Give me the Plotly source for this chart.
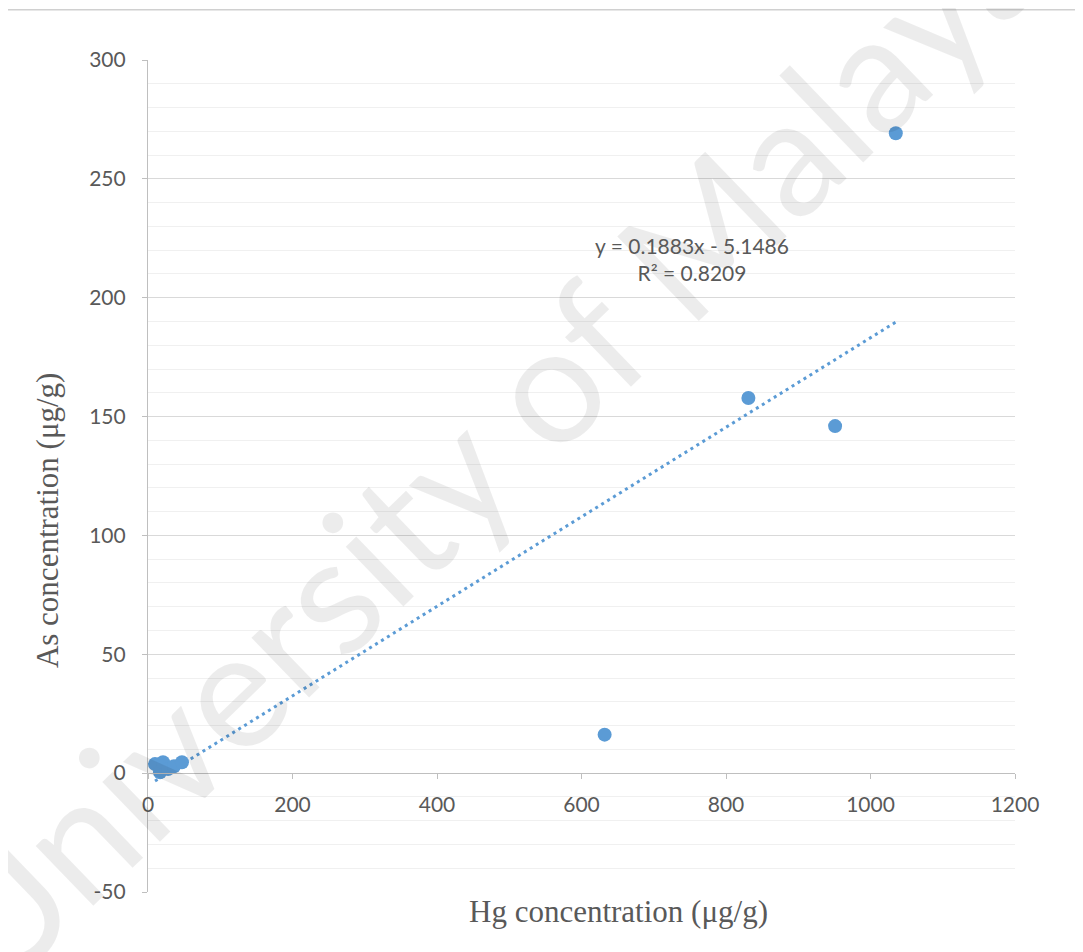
import plotly.graph_objects as go

# Data
hg = [9.7, 16.6, 20.8, 27.7, 36.0, 47.0, 632.0, 831.0, 951.0, 1035.0]
as_conc = [3.8, 0.4, 4.6, 1.7, 2.9, 4.6, 16.2, 157.8, 146.0, 269.2]

slope = 0.1883
intercept = -5.1486
r2 = 0.8209

x_ticks = [0, 200, 400, 600, 800, 1000, 1200]
y_ticks = [-50, 0, 50, 100, 150, 200, 250, 300]
y_ticktext = ["-50", "0", "50", "100", "150", "200", "250", "300"]

BLUE = "#5b9bd5"
TXT = "#595959"

trend_x = [min(hg), max(hg)]
trend_y = [slope * v + intercept for v in trend_x]

fig = go.Figure()
fig.add_trace(go.Scatter(
    x=trend_x, y=trend_y, mode="lines",
    line=dict(color=BLUE, width=3, dash="3px,4px"),
    hoverinfo="skip", showlegend=False))
fig.add_trace(go.Scatter(
    x=hg, y=as_conc, mode="markers",
    marker=dict(color=BLUE, size=14, line=dict(width=0)),
    showlegend=False))

ymin, ymax = y_ticks[0], y_ticks[-1]
fig.update_layout(
    width=1083, height=952,
    margin=dict(l=140, r=76, t=52, b=68),
    paper_bgcolor="white", plot_bgcolor="white",
    font=dict(family="Lato, Open Sans, sans-serif", color=TXT, size=21),
    xaxis=dict(
        range=[x_ticks[0], x_ticks[-1]], tickvals=x_ticks,
        anchor="free", position=(0 - ymin) / (ymax - ymin),
        showgrid=False, zeroline=False,
        showline=True, linecolor="#bfbfbf", linewidth=1.2,
        ticks="outside", ticklen=5, tickcolor="#bfbfbf",
        ticklabelstandoff=8,
        tickfont=dict(size=21, color=TXT),
    ),
    yaxis=dict(
        range=[ymin, ymax], tickvals=y_ticks, ticktext=y_ticktext,
        showgrid=True, gridcolor="#d9d9d9", gridwidth=1.2,
        zeroline=False,
        showline=True, linecolor="#bfbfbf", linewidth=1.2,
        ticks="outside", ticklen=5, tickcolor="#bfbfbf",
        ticklabelstandoff=12,
        tickfont=dict(size=21, color=TXT),
        minor=dict(dtick=10, showgrid=True, gridcolor="#f0f0f0", gridwidth=1.2, ticks=""),
    ),
    shapes=[dict(type="rect", xref="paper", yref="paper",
                 x0=-0.165, x1=1.2, y0=-0.2, y1=1.0605,
                 line=dict(color="#d0d0d0", width=1.5), layer="below")],
    annotations=[
        dict(text="University of Malaya", xref="paper", yref="paper",
             x=0.3887, y=0.5433, xanchor="center", yanchor="middle",
             showarrow=False, textangle=-44,
             font=dict(family="Lato, Open Sans, sans-serif", size=164,
                       color="rgba(0,0,0,0.075)")),
        dict(text=f"y = {slope}x - {abs(intercept)}<br>R² = {r2}",
             xref="paper", yref="paper", x=0.6275, y=0.7608,
             xanchor="center", yanchor="middle",
             showarrow=False, align="center",
             font=dict(size=21, color=TXT)),
        dict(text="Hg concentration (μg/g)", xref="paper", yref="paper",
             x=0.543, y=-0.024, xanchor="center", yanchor="middle",
             showarrow=False,
             font=dict(family="Liberation Serif, Times New Roman, serif", size=31, color=TXT)),
        dict(text="As concentration (μg/g)", xref="paper", yref="paper",
             x=-0.1165, y=0.447, xanchor="center", yanchor="middle",
             showarrow=False, textangle=-90,
             font=dict(family="Liberation Serif, Times New Roman, serif", size=31, color=TXT)),
    ],
)

fig.write_html("out.html")
